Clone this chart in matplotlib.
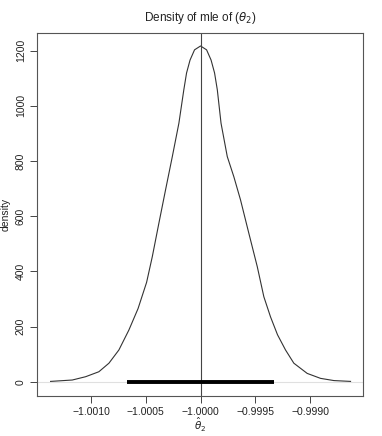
import matplotlib
matplotlib.use("Agg")
import matplotlib.pyplot as plt

plt.rcParams["font.family"] = ["Liberation Sans", "DejaVu Sans"]
plt.rcParams["mathtext.fontset"] = "dejavusans"

# density estimate of the mle
theta = [-1.001370, -1.001172, -1.001050, -1.000929, -1.000837, -1.000746,
         -1.000655, -1.000571, -1.000493, -1.000441, -1.000381, -1.000320,
         -1.000258, -1.000198, -1.000153, -1.000128, -1.000096, -1.000055,
         -1.000000,
         -0.999945, -0.999904, -0.999872, -0.999847, -0.999813, -0.999756,
         -0.999696, -0.999635, -0.999559, -0.999482, -0.999422, -0.999361,
         -0.999297, -0.999224, -0.999148, -0.999026, -0.998904, -0.998782,
         -0.998630]
density = [1, 6, 18, 36, 67, 115,
           187, 265, 360, 453, 574, 695,
           816, 937, 1058, 1119, 1166, 1203,
           1217,
           1203, 1166, 1119, 1058, 937, 816,
           743, 659, 538, 417, 308, 235,
           170, 115, 67, 30, 12, 4,
           1]

mle = -1.0000
ci = [-1.000671, -0.999329]

x_ticks = [-1.0010, -1.0005, -1.0000, -0.9995, -0.9990]
x_tick_labels = ["\u22121.0010", "\u22121.0005", "\u22121.0000", "\u22120.9995", "\u22120.9990"]
y_ticks = [0, 200, 400, 600, 800, 1000, 1200]

fig = plt.figure(figsize=(3.82, 4.36), dpi=100)
ax = fig.add_axes([0.0969, 0.0917, 0.8534, 0.8326])

ax.axhline(0, color="#e0e0e0", lw=0.8, zorder=1)
ax.plot(theta, density, color="#333333", lw=0.8, zorder=2)
ax.axvline(mle, color="#444444", lw=0.8, zorder=2)
ax.plot(ci, [0, 0], color="black", lw=2.8, solid_capstyle="butt", zorder=3)

ax.set_xlim(-1.001494, -0.998516)
ax.set_ylim(-52, 1264)
ax.set_xticks(x_ticks)
ax.set_xticklabels(x_tick_labels)
ax.set_yticks(y_ticks)
ax.set_yticklabels([str(v) for v in y_ticks], rotation=90, va="center")

ax.tick_params(axis="both", direction="out", length=5, width=0.7,
               colors="#444444", labelsize=7.5, labelcolor="#222222", pad=3)
for s in ax.spines.values():
    s.set_color("#555555")
    s.set_linewidth(0.8)

ax.set_title(r"Density of mle of ($\theta_2$)", fontsize=8.5, pad=9, color="#222222")
ax.set_xlabel(r"$\hat{\theta}_2$", fontsize=7.5, labelpad=-1, color="#222222")
ax.set_ylabel("density", fontsize=7.5, labelpad=4, color="#222222")

fig.savefig("out.png", dpi=100)
